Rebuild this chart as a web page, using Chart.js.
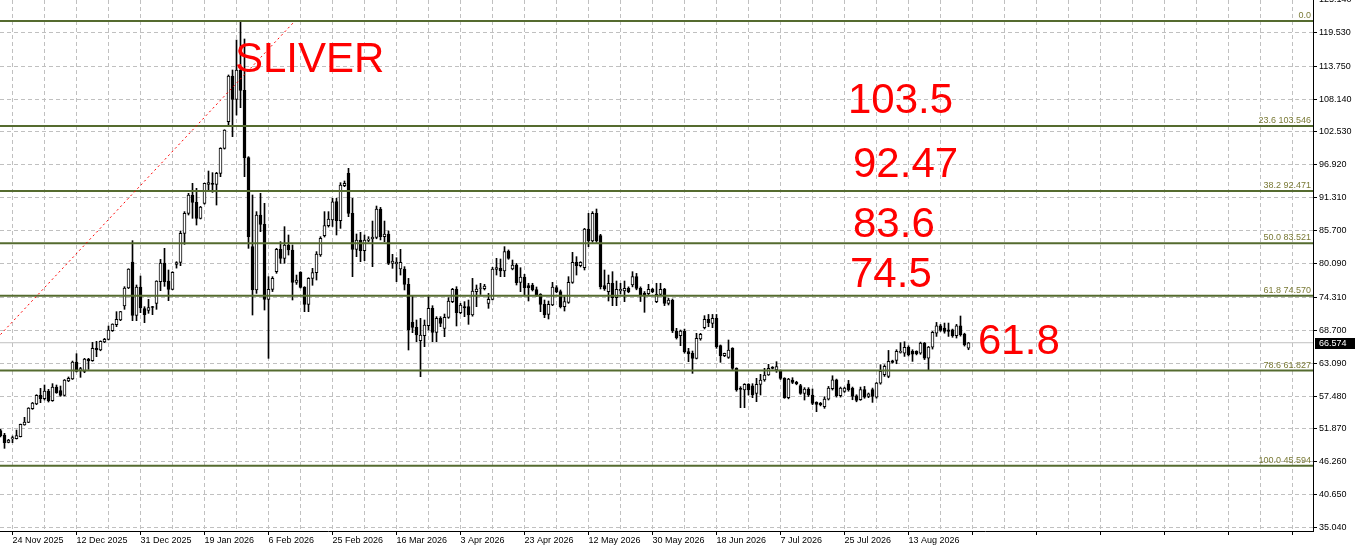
<!DOCTYPE html>
<html>
<head>
<meta charset="utf-8">
<title>SLIVER - Daily</title>
<script src="https://cdn.jsdelivr.net/npm/chart.js@4.4.1/dist/chart.umd.min.js"></script>
<style>
  html, body { margin: 0; padding: 0; background: #ffffff; overflow: hidden; }
  #wrap { width: 1355px; height: 550px; }
</style>
</head>
<body>
<div id="wrap"><canvas id="mainChart" width="1355" height="550"></canvas></div>
<script>
// Barras diárias, da mais antiga para a mais recente (barra 3 = 24 Nov 2025)
const opens = [
  51.60, 50.83, 49.58, 50.15, 50.21, 50.55, 52.54, 53.00, 55.32, 56.12,
  57.60, 57.03, 58.34, 56.69, 59.02, 58.39, 57.60, 60.04, 60.38, 63.28,
  61.92, 61.69, 63.79, 63.51, 65.61, 65.33, 66.69, 67.15, 68.63, 69.65,
  70.45, 72.83, 75.90, 80.34, 71.24, 76.07, 72.38, 72.10, 72.72, 73.29,
  76.98, 80.17, 77.10, 75.68, 79.94, 80.28, 85.23, 88.64, 91.77, 90.52,
  87.79, 90.35, 93.59, 93.76, 93.59, 95.47, 99.73, 104.28, 112.07, 108.09,
  113.09, 109.62, 98.14, 82.96, 75.57, 88.36, 86.77, 73.97, 75.68, 78.69,
  82.50, 80.97, 83.24, 82.39, 76.87, 78.58, 76.02, 73.12, 77.55, 78.52,
  81.53, 84.83, 86.54, 87.50, 90.63, 87.39, 93.36, 95.47, 88.64, 82.50,
  84.10, 82.27, 84.04, 84.27, 84.55, 89.38, 84.66, 85.12, 80.12, 80.00,
  79.15, 79.15, 76.53, 70.05, 69.20, 66.92, 67.78, 69.48, 72.44, 68.35,
  70.73, 69.03, 70.90, 73.58, 75.68, 71.70, 72.72, 72.72, 71.30, 75.28,
  75.85, 75.80, 73.29, 73.97, 79.09, 79.26, 78.81, 82.22, 79.15, 79.83,
  76.87, 77.78, 76.31, 76.42, 75.62, 74.82, 73.12, 71.42, 73.01, 75.97,
  75.28, 72.72, 73.46, 76.87, 80.29, 79.72, 79.37, 85.97, 83.92, 88.64,
  84.83, 76.31, 75.28, 76.71, 74.26, 75.40, 75.40, 75.85, 76.42, 77.84,
  75.85, 75.00, 74.94, 75.68, 73.58, 74.82, 75.74, 73.29, 73.86, 68.57,
  67.78, 68.57, 65.05, 64.76, 63.91, 67.21, 69.14, 70.56, 69.88, 70.73,
  66.07, 64.37, 64.08, 65.62, 62.21, 58.80, 58.51, 59.48, 59.20, 57.94,
  59.48, 60.21, 61.07, 62.40, 61.92, 61.75, 60.50, 57.20, 60.21, 59.82,
  59.25, 57.94, 58.68, 57.66, 56.40, 56.24, 55.67, 56.96, 58.73, 60.26,
  57.53, 58.27, 59.58, 58.78, 57.53, 56.85, 58.56, 57.42, 58.56, 57.30,
  59.69, 61.11, 60.83, 63.50, 63.56, 64.92, 64.81, 65.77, 65.09, 65.09,
  64.81, 66.51, 63.96, 65.83, 68.22, 69.47, 69.07, 68.79, 68.79, 67.77,
  69.47, 68.06, 65.66
];
const highs = [
  51.80, 51.12, 50.10, 50.66, 51.68, 52.70, 53.85, 55.50, 56.40, 57.71,
  58.79, 59.36, 58.62, 59.59, 59.36, 59.19, 60.30, 60.73, 63.45, 64.70,
  62.38, 63.91, 63.91, 66.64, 66.81, 66.90, 67.32, 69.42, 69.80, 71.87,
  71.93, 76.13, 79.20, 83.98, 76.42, 77.95, 72.72, 73.97, 72.78, 77.15,
  80.79, 82.67, 78.98, 78.69, 80.40, 85.63, 88.93, 92.05, 93.76, 92.91,
  89.84, 93.80, 95.86, 95.58, 95.64, 99.84, 102.90, 112.24, 113.09, 118.20,
  121.33, 118.38, 98.31, 91.77, 88.93, 92.05, 90.35, 77.84, 77.84, 82.67,
  83.81, 86.37, 84.95, 83.24, 78.12, 78.69, 76.14, 77.67, 79.26, 82.11,
  84.66, 88.93, 88.93, 91.20, 91.20, 93.87, 94.16, 96.32, 91.20, 85.12,
  85.40, 84.95, 84.66, 87.33, 89.89, 89.66, 87.33, 85.63, 81.65, 81.08,
  82.50, 79.55, 77.55, 74.54, 70.45, 70.73, 70.45, 74.43, 72.89, 71.02,
  71.02, 71.47, 74.26, 75.85, 76.13, 73.29, 73.58, 73.86, 77.55, 76.42,
  76.70, 76.53, 74.99, 79.43, 80.97, 80.85, 82.96, 82.40, 80.68, 80.10,
  79.37, 78.24, 76.71, 76.71, 76.08, 74.94, 73.86, 73.69, 76.87, 76.31,
  75.57, 74.43, 77.84, 81.99, 81.25, 80.40, 86.08, 88.64, 88.93, 89.38,
  85.06, 78.98, 78.12, 78.69, 77.10, 76.71, 77.10, 76.10, 78.69, 78.40,
  76.10, 75.30, 76.53, 75.85, 76.71, 76.71, 75.85, 74.14, 74.03, 69.03,
  68.74, 68.90, 65.62, 65.16, 68.18, 68.18, 71.19, 71.40, 71.40, 71.40,
  66.19, 64.80, 67.04, 65.73, 62.30, 59.08, 59.59, 59.59, 59.59, 60.50,
  61.18, 62.21, 62.89, 62.50, 63.34, 61.92, 60.61, 60.50, 60.61, 60.00,
  59.48, 58.91, 58.91, 58.68, 56.50, 56.40, 57.37, 59.12, 60.94, 60.37,
  59.01, 59.00, 60.15, 59.01, 57.70, 59.01, 59.12, 58.00, 58.84, 59.80,
  62.82, 62.82, 65.26, 63.60, 65.38, 66.58, 66.74, 66.05, 65.38, 65.20,
  66.68, 66.62, 65.95, 68.50, 70.04, 69.70, 69.93, 69.93, 68.90, 69.70,
  71.13, 68.20, 66.62
];
const lows = [
  50.50, 48.56, 49.50, 49.53, 50.15, 50.50, 52.50, 52.95, 55.20, 56.00,
  56.35, 56.80, 56.46, 56.58, 57.94, 57.43, 57.50, 59.93, 60.30, 61.58,
  60.67, 61.46, 62.03, 63.40, 64.19, 65.20, 66.58, 67.04, 68.50, 69.31,
  70.33, 72.27, 75.80, 70.33, 70.33, 71.70, 69.99, 71.59, 71.36, 72.27,
  75.45, 76.19, 73.75, 75.60, 79.30, 79.72, 83.35, 88.36, 87.79, 86.65,
  87.68, 90.20, 92.34, 92.22, 90.06, 94.90, 99.60, 103.71, 101.72, 105.41,
  106.66, 94.90, 82.67, 71.30, 74.99, 85.51, 72.15, 63.91, 75.30, 78.41,
  80.11, 80.11, 81.53, 73.86, 76.53, 75.90, 71.87, 71.87, 76.37, 77.27,
  81.30, 84.60, 86.30, 86.40, 84.95, 86.08, 93.19, 88.07, 77.84, 81.25,
  80.40, 80.57, 83.80, 79.55, 84.30, 84.10, 83.81, 79.90, 79.26, 76.99,
  78.12, 75.57, 65.33, 68.29, 66.75, 60.78, 65.90, 68.74, 66.75, 66.75,
  69.31, 67.61, 70.73, 73.40, 69.43, 71.50, 71.02, 69.71, 71.10, 72.72,
  74.80, 75.57, 72.44, 73.86, 78.12, 77.84, 77.84, 80.80, 79.00, 76.42,
  75.28, 74.71, 73.69, 75.40, 74.50, 71.87, 70.85, 70.62, 72.89, 75.10,
  72.50, 71.98, 73.29, 76.70, 78.12, 79.50, 78.98, 82.96, 83.70, 83.70,
  75.74, 75.50, 73.69, 72.89, 72.89, 74.90, 73.58, 75.10, 76.10, 75.60,
  73.60, 71.76, 74.70, 75.10, 73.40, 74.60, 72.90, 73.01, 68.30, 67.20,
  66.07, 64.80, 63.34, 61.35, 63.80, 67.00, 68.92, 69.30, 69.14, 65.62,
  63.23, 64.20, 63.90, 62.00, 58.30, 55.50, 55.50, 57.66, 57.20, 56.52,
  57.66, 60.00, 61.00, 62.10, 61.52, 60.30, 57.09, 57.00, 59.60, 59.40,
  57.77, 56.80, 57.40, 56.00, 54.81, 55.80, 55.38, 56.80, 58.50, 57.30,
  57.30, 58.10, 58.30, 56.85, 56.50, 56.74, 57.10, 57.20, 56.40, 57.10,
  59.50, 60.83, 60.60, 63.10, 62.99, 64.80, 64.24, 64.30, 63.39, 64.50,
  64.60, 63.70, 61.97, 65.49, 67.65, 68.50, 68.20, 67.65, 67.50, 67.37,
  67.70, 66.00, 65.38
];
const closes = [
  50.70, 49.53, 49.98, 50.38, 50.72, 52.65, 53.05, 55.44, 56.29, 57.60,
  57.03, 58.34, 56.69, 59.02, 58.05, 57.60, 60.21, 60.50, 63.28, 61.69,
  62.15, 63.79, 63.45, 65.61, 65.33, 66.81, 67.15, 68.74, 69.76, 70.56,
  71.87, 75.90, 79.15, 71.24, 76.07, 72.49, 71.36, 72.55, 72.60, 77.10,
  80.17, 76.98, 75.68, 78.58, 80.23, 85.23, 88.64, 91.77, 90.52, 87.79,
  89.72, 93.76, 93.87, 93.59, 95.47, 99.73, 102.86, 112.07, 108.09, 113.09,
  109.62, 98.14, 84.66, 75.57, 88.36, 86.77, 73.97, 75.68, 77.55, 82.50,
  80.97, 83.24, 82.39, 76.87, 77.27, 76.02, 73.12, 77.55, 78.52, 81.71,
  84.38, 86.54, 87.67, 90.60, 87.39, 93.47, 93.76, 88.64, 82.50, 84.10,
  82.27, 84.10, 84.27, 84.61, 89.38, 84.66, 85.12, 80.12, 80.51, 80.34,
  80.29, 76.53, 68.74, 69.20, 67.89, 67.89, 69.60, 72.44, 68.35, 70.73,
  69.88, 70.90, 73.69, 75.68, 71.70, 73.01, 72.50, 71.30, 75.40, 75.74,
  75.95, 76.25, 73.97, 79.15, 79.38, 78.81, 82.10, 80.97, 79.83, 76.82,
  77.78, 75.97, 75.97, 75.62, 74.71, 73.12, 71.30, 73.12, 76.08, 75.28,
  72.72, 73.58, 76.87, 80.29, 79.72, 80.29, 85.97, 83.92, 88.64, 83.92,
  76.13, 75.74, 76.71, 74.26, 75.68, 75.68, 75.85, 75.28, 77.84, 75.85,
  74.71, 74.71, 75.68, 75.28, 74.82, 75.68, 73.29, 73.86, 68.57, 67.44,
  68.57, 65.05, 64.65, 63.91, 67.32, 68.00, 70.56, 69.99, 70.73, 65.90,
  64.37, 64.77, 65.33, 62.21, 58.51, 58.60, 59.48, 58.51, 57.66, 59.48,
  60.21, 61.07, 62.21, 62.20, 62.49, 60.50, 57.20, 60.39, 59.82, 59.60,
  57.94, 58.68, 57.66, 56.24, 56.07, 56.00, 56.98, 58.84, 60.26, 57.53,
  58.84, 58.84, 58.56, 57.42, 56.74, 58.56, 57.30, 57.87, 57.42, 59.69,
  61.68, 62.53, 63.39, 63.22, 65.09, 65.09, 65.77, 64.52, 64.64, 64.69,
  66.51, 63.96, 65.83, 68.33, 69.47, 68.68, 68.50, 68.50, 67.77, 69.47,
  67.94, 66.18, 66.574
];

// Rótulos do eixo de tempo (um a cada 16 barras, grade a cada 8)
const dateLabels = [
  '24 Nov 2025', '12 Dec 2025', '31 Dec 2025', '19 Jan 2026', '6 Feb 2026',
  '25 Feb 2026', '16 Mar 2026', '3 Apr 2026', '23 Apr 2026', '12 May 2026',
  '30 May 2026', '18 Jun 2026', '7 Jul 2026', '25 Jul 2026', '13 Aug 2026'
];
const firstLabelBar = 3;

// Escala de preço
const priceTicks = [
  125.14, 119.53, 113.75, 108.14, 102.53, 96.92, 91.31, 85.70, 80.09,
  74.31, 68.70, 63.09, 57.48, 51.87, 46.26, 40.65, 35.04
];

// Níveis de Fibonacci
const fibRatios = ['0.0', '23.6', '38.2', '50.0', '61.8', '78.6', '100.0'];
const fibPrices = [121.447, 103.546, 92.471, 83.521, 74.570, 61.827, 45.594];

// Linha de tendência do Fibonacci (barra, preço)
const trendBars = [-30.8, 73.6];
const trendPrices = [45.594, 121.447];

const lastPrice = 66.574;

// Textos livres desenhados no gráfico
const notes = [
  { text: 'SLIVER', x: 235, y: 72 },
  { text: '103.5', x: 848, y: 113 },
  { text: '92.47', x: 853, y: 177 },
  { text: '83.6', x: 853, y: 237 },
  { text: '74.5', x: 850, y: 287 },
  { text: '61.8', x: 978, y: 354 }
];

const FONT = '"Liberation Sans", Arial, sans-serif';
const X_MIN = -0.125;
const X_MAX = X_MIN + 1313 / 4;

const bodyData = opens.map((o, i) => ({ x: i, y: [o, closes[i]] }));
const wickData = highs.map((h, i) => ({ x: i, y: [lows[i], h] }));
const bodyColors = opens.map((o, i) => (closes[i] >= o ? '#ffffff' : '#000000'));

const fibDatasets = fibPrices.map(p => ({
  type: 'line',
  data: [{ x: -50, y: p }, { x: 400, y: p }],
  borderColor: '#556b2f',
  borderWidth: 2,
  pointRadius: 0,
  order: 0
}));

const overlayPlugin = {
  id: 'overlay',
  afterDatasetsDraw(chart) {
    const { ctx, chartArea, scales } = chart;
    const y = scales.y;
    ctx.save();
    // rótulos dos níveis
    ctx.font = '9px ' + FONT;
    ctx.fillStyle = '#7a7a36';
    ctx.textAlign = 'right';
    ctx.textBaseline = 'alphabetic';
    fibPrices.forEach((p, k) => {
      const py = y.getPixelForValue(p);
      const txt = k === 0 ? fibRatios[k] : fibRatios[k] + ' ' + p.toFixed(3);
      ctx.fillText(txt, chartArea.right - 2, py - 3);
    });
    // textos em vermelho
    ctx.font = '42px ' + FONT;
    ctx.fillStyle = '#ff0000';
    ctx.textAlign = 'left';
    notes.forEach(n => ctx.fillText(n.text, n.x, n.y));
    ctx.restore();
  },
  afterDraw(chart) {
    const { ctx, chartArea, scales } = chart;
    const py = Math.round(scales.y.getPixelForValue(lastPrice));
    ctx.save();
    ctx.fillStyle = '#000000';
    ctx.fillRect(chartArea.right + 2, py - 5, 42, 11);
    ctx.fillStyle = '#ffffff';
    ctx.font = '9px ' + FONT;
    ctx.textAlign = 'left';
    ctx.textBaseline = 'middle';
    ctx.fillText(lastPrice.toFixed(3), chartArea.right + 6, py + 0.5);
    ctx.restore();
  }
};

const chart = new Chart(document.getElementById('mainChart'), {
  type: 'bar',
  data: {
    datasets: [
      {
        type: 'line',
        data: trendBars.map((b, k) => ({ x: b, y: trendPrices[k] })),
        borderColor: '#ff0000',
        borderWidth: 1,
        borderDash: [2, 3],
        pointRadius: 0,
        order: 0
      },
      ...fibDatasets,
      {
        data: bodyData,
        backgroundColor: bodyColors,
        borderColor: '#000000',
        borderWidth: 1,
        borderSkipped: false,
        barThickness: 3,
        grouped: false,
        order: 1
      },
      {
        data: wickData,
        backgroundColor: '#000000',
        borderWidth: 0,
        barThickness: 1,
        grouped: false,
        order: 2
      },
      {
        type: 'line',
        data: [{ x: -50, y: lastPrice }, { x: 400, y: lastPrice }],
        borderColor: '#c0c0c0',
        borderWidth: 1,
        pointRadius: 0,
        order: 3
      }
    ]
  },
  options: {
    responsive: false,
    animation: false,
    events: [],
    layout: { padding: 0 },
    plugins: {
      legend: { display: false },
      tooltip: { enabled: false }
    },
    scales: {
      x: {
        type: 'linear',
        min: X_MIN,
        max: X_MAX,
        offset: false,
        afterBuildTicks(scale) {
          const t = [];
          for (let v = firstLabelBar; v <= X_MAX; v += 8) t.push({ value: v });
          scale.ticks = t;
        },
        afterFit(scale) {
          scale.height = 19;
          scale.paddingLeft = 0;
          scale.paddingRight = 0;
        },
        grid: {
          color: '#c0c0c0',
          offset: false,
          tickLength: 4,
          tickBorderDash: [],
          tickColor: c => (c.tick && (c.tick.value - firstLabelBar) % 16 === 0 ? '#000000' : 'rgba(0,0,0,0)')
        },
        border: { display: true, color: '#000000', width: 1, dash: [4, 3] },
        ticks: {
          autoSkip: false,
          maxRotation: 0,
          minRotation: 0,
          align: 'start',
          padding: 0,
          color: '#000000',
          font: { family: FONT, size: 9 },
          callback(value) {
            const k = (value - firstLabelBar) / 16;
            return Number.isInteger(k) && dateLabels[k] ? dateLabels[k] : '';
          }
        }
      },
      y: {
        type: 'linear',
        position: 'right',
        min: 34.46,
        max: 125.03,
        afterBuildTicks(scale) {
          scale.ticks = priceTicks.map(v => ({ value: v }));
        },
        afterFit(scale) {
          scale.width = 42;
          scale.paddingTop = 0;
          scale.paddingBottom = 0;
        },
        grid: {
          color: '#c0c0c0',
          tickLength: 4,
          tickColor: '#000000',
          tickBorderDash: []
        },
        border: { display: true, color: '#000000', width: 1, dash: [4, 3] },
        ticks: {
          padding: 2,
          color: '#000000',
          font: { family: FONT, size: 9 },
          callback: value => value.toFixed(3)
        }
      }
    }
  },
  plugins: [overlayPlugin]
});
</script>
</body>
</html>
